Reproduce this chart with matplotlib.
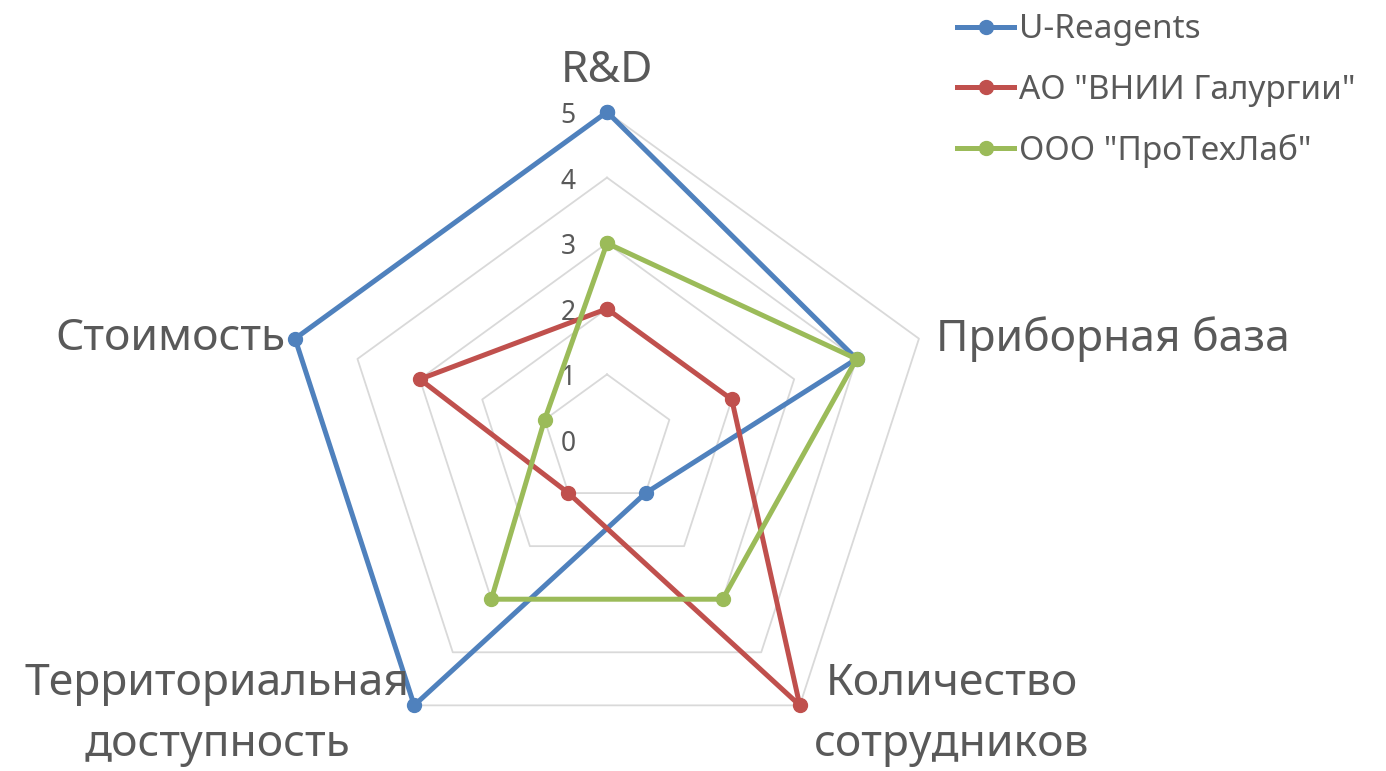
import numpy as np
import matplotlib
matplotlib.use("Agg")
import matplotlib.pyplot as plt

plt.rcParams['font.family'] = ['Noto Sans', 'DejaVu Sans']

categories = ['R&D', 'Приборная база', 'Количество\nсотрудников',
              'Территориальная\nдоступность', 'Стоимость']
series_names = ['U-Reagents', 'АО "ВНИИ Галургии"', 'ООО "ПроТехЛаб"']
u_reagents = [5, 4, 1, 5, 5]
vnii = [2, 2, 5, 1, 3]
protehlab = [3, 4, 3, 3, 1]
levels = [0, 1, 2, 3, 4, 5]

colors = ['#4F81BD', '#C0504D', '#9BBB59']
text_color = '#595959'

fig = plt.figure(figsize=(13.86, 7.71), dpi=100)
# polar axes centred where the reference puts the chart centre
ax = fig.add_axes([279 / 1386, 3 / 771, 656 / 1386, 656 / 771], projection='polar')
ax.set_theta_offset(np.pi / 2)
ax.set_theta_direction(-1)
ax.set_ylim(0, 5)
ax.grid(False)
ax.spines['polar'].set_visible(False)
ax.set_xticks([])
ax.set_yticks([])
ax.patch.set_alpha(0)

n = len(categories)
angles = [2 * np.pi * i / n for i in range(n)]
closed = angles + angles[:1]

# pentagon gridlines
for lv in levels[1:]:
    ax.plot(closed, [lv] * (n + 1), color='#D9D9D9', lw=1.3, zorder=1, clip_on=False)

# radial tick labels
for lv in levels:
    ax.annotate(str(lv), xy=(0, lv), xytext=(-39, -4), textcoords='offset pixels',
                ha='center', va='center', fontsize=19, color=text_color)

for name, vals, c in zip(series_names, [u_reagents, vnii, protehlab], colors):
    ax.plot(closed, vals + vals[:1], color=c, lw=3.6, marker='o', markersize=10,
            label=name, zorder=3, clip_on=False)

# category labels
offsets = [(0, 30), (17, 0), (152, -9), (-197, -9), (-10, 0)]
aligns = [('center', 'baseline'), ('left', 'center'), ('center', 'center'),
          ('center', 'center'), ('right', 'center')]
for ang, lab, off, (ha, va) in zip(angles, categories, offsets, aligns):
    ax.annotate(lab, xy=(ang, 5), xytext=off, textcoords='offset pixels',
                ha=ha, va=va, fontsize=32, color=text_color, linespacing=1.5,
                annotation_clip=False)

leg = fig.legend(loc='upper left', bbox_to_anchor=(944 / 1386, 1.0), frameon=False,
                 fontsize=24, handlelength=1.7, handletextpad=0.15,
                 labelspacing=0.82, borderaxespad=0.0)
for t in leg.get_texts():
    t.set_color(text_color)

fig.savefig('out.png', dpi=100)
